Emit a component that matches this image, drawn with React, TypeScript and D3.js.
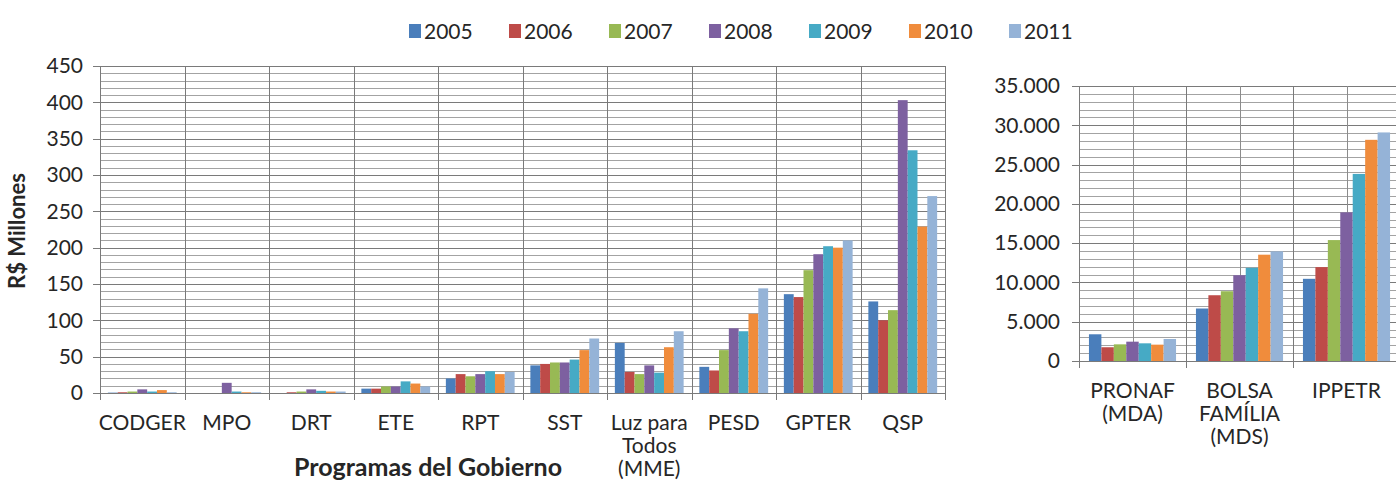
import React from "react";
import * as d3 from "d3";

const years = ["2005", "2006", "2007", "2008", "2009", "2010", "2011"];
const colors = ["#4A7EBB", "#BE4B48", "#98B954", "#7D60A0", "#46AAC5", "#F08C3C", "#95B3D7"];

const leftCategories = ["CODGER", "MPO", "DRT", "ETE", "RPT", "SST", "Luz para Todos (MME)", "PESD", "GPTER", "QSP"];
const leftLabels = [["CODGER"], ["MPO"], ["DRT"], ["ETE"], ["RPT"], ["SST"], ["Luz para", "Todos", "(MME)"], ["PESD"], ["GPTER"], ["QSP"]];
const leftValues: number[][] = [
  [0.5, 1, 2, 5, 2, 4, 1],
  [0, 0, 0, 14, 2, 1, 1],
  [0, 1, 2, 5, 3, 2, 2],
  [6, 6, 9, 9, 16, 13, 9],
  [20, 26, 23, 26, 30, 26, 29],
  [38, 40, 42, 42, 46, 59, 75],
  [69, 29, 26, 38, 28, 63, 85],
  [36, 31, 59, 89, 85, 109, 144],
  [136, 132, 169, 191, 202, 200, 210],
  [126, 100, 114, 403, 334, 229, 271],
];
const leftTicks = [0, 50, 100, 150, 200, 250, 300, 350, 400, 450];

const rightCategories = ["PRONAF (MDA)", "BOLSA FAMÍLIA (MDS)", "IPPETR"];
const rightLabels = [["PRONAF", "(MDA)"], ["BOLSA", "FAMÍLIA", "(MDS)"], ["IPPETR"]];
const rightValues: number[][] = [
  [3400, 1750, 2120, 2460, 2250, 2080, 2800],
  [6680, 8370, 8880, 10920, 11860, 13530, 13950],
  [10460, 11950, 15390, 18920, 23810, 28150, 29090],
];
const rightTicks = [0, 5000, 10000, 15000, 20000, 25000, 30000, 35000];

const FONT = "Lato, 'Open Sans', sans-serif";
const FS = 21;
const locale = d3.formatLocale({ thousands: ".", grouping: [3], decimal: ",", currency: ["R$", ""] });
const fmt = locale.format(",");

function Chart(props: {
  cats: string[]; labels: string[][]; values: number[][]; max: number; ticks: number[]; minorStep: number;
  left: number; right: number; top: number; bottom: number; midLines: boolean; tickFmt: (v: number) => string; labelX: number;
}) {
  const { cats, labels, values, max, ticks, minorStep, left, right, top, bottom, midLines, tickFmt, labelX } = props;
  const x0 = d3.scaleBand<string>().domain(cats).range([left, right]).paddingInner(0).paddingOuter(0);
  const x1 = d3.scaleBand<string>().domain(years).range([0, x0.bandwidth()]).paddingInner(0).paddingOuter(0.8);
  const y = d3.scaleLinear().domain([0, max]).range([bottom, top]);
  const minor = d3.range(0, max + 0.001, minorStep);
  const bounds = cats.map((c) => x0(c) as number).concat([right]);
  return (
    <g>
      {minor.map((v) => (
        <line key={"m" + v} x1={left} x2={right} y1={Math.round(y(v)) + 0.5} y2={Math.round(y(v)) + 0.5}
          stroke={ticks.includes(v) ? "#7a7a7a" : "#a3a3a3"} strokeWidth={1} />
      ))}
      {bounds.map((b, i) => (
        <line key={"v" + i} x1={Math.round(b) + 0.5} x2={Math.round(b) + 0.5} y1={top} y2={bottom + 7} stroke="#7a7a7a" strokeWidth={1} />
      ))}
      {midLines && cats.map((c) => {
        const mx = Math.round((x0(c) as number) + x0.bandwidth() / 2) + 0.5;
        return <line key={"mid" + c} x1={mx} x2={mx} y1={top} y2={bottom} stroke="#8c8c8c" strokeWidth={1} />;
      })}
      {cats.map((c, ci) => years.map((yr, yi) => {
        const v = values[ci][yi];
        return (
          <rect key={c + yr} x={(x0(c) as number) + (x1(yr) as number)} width={x1.bandwidth()}
            y={y(v)} height={bottom - y(v)} fill={colors[yi]} />
        );
      }))}
      <line x1={left - 7} x2={right} y1={bottom + 0.5} y2={bottom + 0.5} stroke="#7a7a7a" />
      {ticks.map((t) => (
        <g key={"t" + t}>
          <line x1={left - 7} x2={left} y1={Math.round(y(t)) + 0.5} y2={Math.round(y(t)) + 0.5} stroke="#7a7a7a" />
          <text x={labelX} y={y(t)} dy="0.35em" textAnchor="end" fontSize={FS} fontFamily={FONT} fill="#262626">{tickFmt(t)}</text>
        </g>
      ))}
      {cats.map((c, ci) => (
        <text key={"l" + c} x={(x0(c) as number) + x0.bandwidth() / 2} y={bottom + 37} textAnchor="middle" fontSize={FS} fontFamily={FONT} fill="#262626">
          {labels[ci].map((ln, li) => (
            <tspan key={li} x={(x0(c) as number) + x0.bandwidth() / 2} dy={li === 0 ? 0 : 23}>{ln}</tspan>
          ))}
        </text>
      ))}
    </g>
  );
}

export default function App() {
  return (
    <svg width={1396} height={493} style={{ position: "absolute", left: 0, top: 0, background: "#fff" }}>
      <rect width={1396} height={493} fill="#fff" />
      <g>
        {years.map((yr, i) => (
          <g key={yr} transform={`translate(${409 + i * 100},0)`}>
            <rect x={0} y={24} width={12} height={14} fill={colors[i]} />
            <text x={15} y={31} dy="0.36em" fontSize={FS} fontFamily={FONT} fill="#262626">{yr}</text>
          </g>
        ))}
      </g>
      <Chart cats={leftCategories} labels={leftLabels} values={leftValues} max={450} ticks={leftTicks} minorStep={10}
        left={100} right={945} top={66} bottom={393} midLines={false} tickFmt={(v) => String(v)} labelX={83} />
      <text transform="translate(25,231) rotate(-90)" textAnchor="middle" fontSize={22} fontWeight="bold" fontFamily={FONT} fill="#262626">R$ Millones</text>
      <text x={428} y={476} textAnchor="middle" fontSize={25} fontWeight="bold" fontFamily={FONT} fill="#262626">Programas del Gobierno</text>
      <Chart cats={rightCategories} labels={rightLabels} values={rightValues} max={35000} ticks={rightTicks} minorStep={1000}
        left={1079} right={1400} top={86} bottom={361} midLines={true} tickFmt={(v) => fmt(v)} labelX={1060} />
    </svg>
  );
}
